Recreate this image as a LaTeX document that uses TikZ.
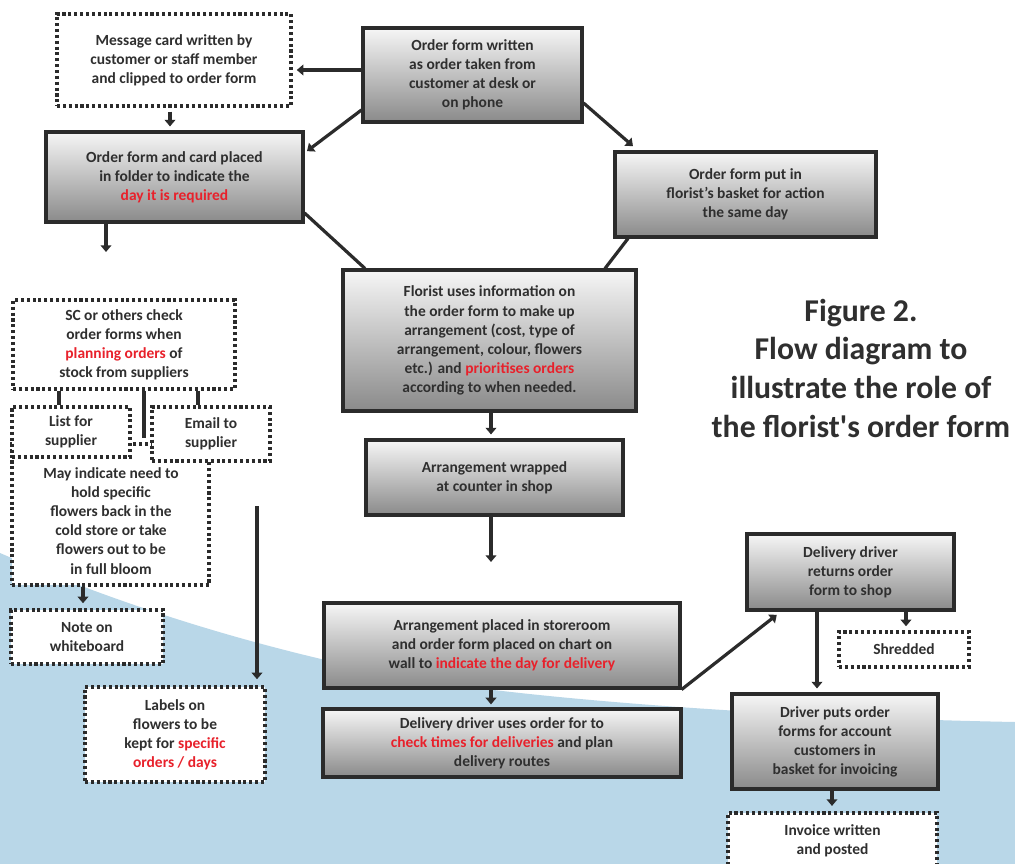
\documentclass[tikz,border=0pt]{standalone}
\usepackage{fontspec}
\setmainfont{Carlito}
\newfontfamily\titlefont{Carlito}[Ligatures=TeXOff]
\usetikzlibrary{arrows.meta}
\definecolor{ink}{HTML}{2F2F2F}
\definecolor{edge}{HTML}{2B2B2B}
\definecolor{hl}{HTML}{E8212B}
\definecolor{bgblue}{HTML}{B9D7E8}
\definecolor{gtop}{HTML}{F6F6F6}
\definecolor{gbot}{HTML}{8A8A8A}
\newcommand\redtxt[1]{\textcolor{hl}{#1}}
\newcommand\bx[7]{\node[#2, minimum width={(#5-#3)*0.75pt}, minimum height={(#6-#4)*0.75pt}] (#1) at ({(#3+#5)/2},{(#4+#6)/2}) {#7};}
\tikzset{
  base/.style={align=center, font=\fontsize{11.6}{14.3}\selectfont\bfseries, text=ink, inner sep=0pt},
  gbox/.style={base, draw=edge, line width=2.3pt, top color=gtop, bottom color=gbot},
  dbox/.style={base, draw=edge, line width=2.6pt, dash pattern=on 2.3pt off 2.1pt, fill=white},
  ln/.style={draw=edge, line width=2.4pt},
  arr/.style={ln, -{Triangle[width=8pt,length=5pt]}},
}
\begin{document}
\begin{tikzpicture}[x=0.75pt,y=-0.75pt]
\useasboundingbox (0,0) rectangle (1015,864);
\fill[white] (0,0) rectangle (1015,864);
\fill[bgblue] (0,553) .. controls (120,605) and (260,650) .. (420,680)
  .. controls (560,702) and (800,718) .. (1015,722) -- (1015,864) -- (0,864) -- cycle;

% main flow
\bx{msg}{dbox}{57}{14}{291}{106}{Message card written by\\customer or staff member\\and clipped to order form}
\bx{order}{gbox}{363}{28}{582}{122}{Order form written\\as order taken from\\customer at desk or\\on phone}
\bx{folder}{gbox}{46}{132}{303}{222}{Order form and card placed\\in folder to indicate the\\\redtxt{day it is required}}
\bx{basket}{gbox}{615}{152}{876}{237}{Order form put in\\florist’s basket for action\\the same day}
\bx{florist}{gbox}{343}{270}{636}{411}{Florist uses information on\\the order form to make up\\arrangement (cost, type of\\arrangement, colour, flowers\\etc.) and \redtxt{prioritises orders}\\according to when needed.}
\bx{wrapped}{gbox}{366}{440}{623}{515}{Arrangement wrapped\\at counter in shop}
\bx{store}{gbox}{324}{603}{680}{688}{Arrangement placed in storeroom\\and order form placed on chart on\\wall to \redtxt{indicate the day for delivery}}
\bx{uses}{gbox}{323}{709}{681}{777}{Delivery driver uses order for to\\\redtxt{check times for deliveries} and plan\\delivery routes}
\bx{returns}{gbox}{747}{534}{954}{610}{Delivery driver\\returns order\\form to shop}
\bx{shred}{dbox}{839}{632}{969}{667}{Shredded}
\bx{puts}{gbox}{732}{694}{938}{789}{Driver puts order\\forms for account\\customers in\\basket for invoicing}
\bx{invoice}{dbox}{728}{813}{937}{868}{Invoice written\\and posted}

% left column
\bx{may}{dbox}{12}{444}{209}{585}{}
\node[base] (maytext) at (111,521) {May indicate need to\\hold specific\\flowers back in the\\cold store or take\\flowers out to be\\in full bloom};
\bx{sc}{dbox}{13}{300}{235}{389}{SC or others check\\order forms when\\\redtxt{planning orders} of\\stock from suppliers}
\bx{list}{dbox}{12}{407}{130}{457}{List for\\supplier}
\bx{email}{dbox}{152}{407}{270}{461}{Email to\\supplier}
\bx{note}{dbox}{11}{610}{163}{664}{Note on\\whiteboard}
\bx{labels}{dbox}{85}{687}{265}{782}{Labels on\\flowers to be\\kept for \redtxt{specific}\\\redtxt{orders / days}}

% title
\node[font=\fontsize{23.8}{29}\selectfont\bfseries\titlefont, text=ink, align=center] (title) at (861,368)
  {Figure 2.\\Flow diagram to\\illustrate the role of\\the florist's order form};

% free ends
\coordinate (fdown) at (106,252);
\coordinate (lstart) at (257,506);
\coordinate (wdown) at (491,562);

% connectors
\draw[arr, shorten >=3pt] (order.west |- 0,70) -- (msg.east |- 0,70);
\draw[arr, shorten <=3pt, shorten >=3pt] (msg.south -| 170,0) -- (folder.north -| 170,0);
\draw[arr, shorten >=2.3pt] (order.west |- 0,110) -- (folder.east |- 0,153);
\draw[arr, shorten >=5pt] (order.east |- 0,103) -- (basket.north -| 638,0);
\draw[ln] (folder.east |- 0,213) -- (florist.north -| 365,0);
\draw[ln] (basket.south -| 628,0) -- (florist.north -| 605,0);
\draw[arr] (folder.south -| 106,0) -- (fdown);
\draw[ln] (sc.south -| 59,0) -- (list.north -| 59,0);
\draw[ln] (sc.south -| 198,0) -- (email.north -| 198,0);
\draw[ln, shorten >=3pt] (sc.south -| 144,0) -- (may.north -| 144,0);
\draw[arr, shorten >=3.75pt] (may.south -| 83,0) -- (note.north -| 83,0);
\draw[arr, shorten >=4.5pt] (lstart) -- (labels.north -| 257,0);
\draw[arr, shorten >=3pt] (florist.south -| 491,0) -- (wrapped.north -| 491,0);
\draw[arr] (wrapped.south -| 491,0) -- (wdown);
\draw[arr, shorten >=2.3pt] (store.south -| 491,0) -- (uses.north -| 491,0);
\draw[arr, shorten >=4pt] (store.south east) -- (returns.south -| 781,0);
\draw[arr, shorten >=3pt] (returns.south -| 817,0) -- (puts.north -| 817,0);
\draw[arr, shorten >=3pt] (returns.south -| 906,0) -- (shred.north -| 906,0);
\draw[arr, shorten >=4pt] (puts.south -| 832,0) -- (invoice.north -| 832,0);
\end{tikzpicture}
\end{document}
